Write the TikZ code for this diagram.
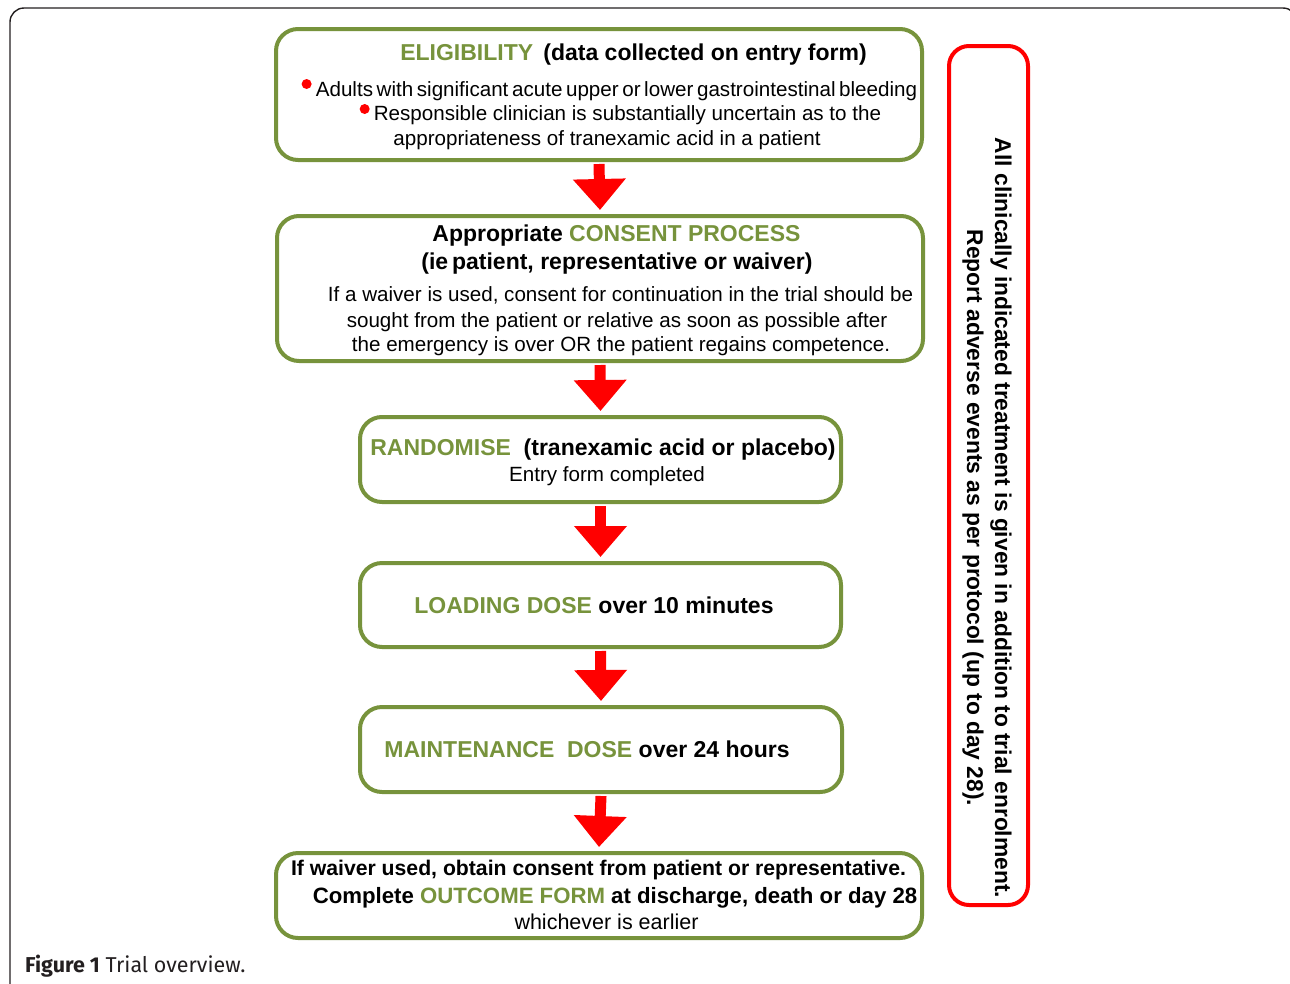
\documentclass[tikz,border=0pt]{standalone}
\usepackage{fontspec}
\setmainfont{Liberation Sans}
\newfontfamily\capfont{Fira Sans}
\usetikzlibrary{arrows.meta}
\definecolor{trialgreen}{RGB}{119,147,60}
\definecolor{capgray}{RGB}{35,31,32}
\begin{document}
\begin{tikzpicture}
  [x=1pt,y=-1pt,every node/.style={inner sep=0pt}]
  \tikzstyle{stagebox} = [draw=trialgreen,line width=4pt,rounded corners=22pt,fill=white]
  \tikzstyle{plaintext} = [anchor=base,font=\fontsize{20.6}{24}\selectfont]
  \tikzstyle{headtext} = [anchor=base,font=\fontsize{23}{28}\selectfont\bfseries]
  \tikzstyle{lasttext} = [anchor=base,font=\fontsize{21.5}{25}\selectfont]
  \tikzstyle{flowarrow} = [red,line width=11pt,-{Triangle[width=51pt,length=31pt]}]
  \tikzstyle{bulletdot} = [circle,fill=red,minimum size=10pt]
  \useasboundingbox (0,0) rectangle (1290,983);
  % page frame and caption
  \draw[capgray,line width=1.4pt,rounded corners=14pt] (10,1000) -- (10,8) -- (1297,8) -- (1297,1000);
  \node[anchor=base west,font=\capfont\fontsize{21.5}{24}\selectfont,text=capgray] (cap) at (25,972) {\textbf{Figure 1} Trial overview.};
  % stages
  \node[stagebox,minimum width=646pt,minimum height=131pt] (elig) at (599,94.5) {};
  \node[stagebox,minimum width=646pt,minimum height=145pt] (consent) at (600,288.5) {};
  \node[stagebox,minimum width=481pt,minimum height=85pt] (rand) at (600.5,459.5) {};
  \node[stagebox,minimum width=481pt,minimum height=84pt] (load) at (600.5,605) {};
  \node[stagebox,minimum width=482pt,minimum height=85pt] (maint) at (601,749.5) {};
  \node[stagebox,minimum width=646pt,minimum height=85pt] (outcome) at (599,895.5) {};
  \node[stagebox,draw=red,minimum width=79pt,minimum height=859pt,rounded corners=20pt] (note) at (988.5,475.5) {};
  % texts
  \node[headtext] (eligT) at (633.5,60) {\textcolor{trialgreen}{ELIGIBILITY}\ \,(data collected on entry form)};
  \node[plaintext] (elig1) at (616.5,96) {\spaceskip=3.6pt plus 1pt Adults with significant acute upper or lower gastrointestinal bleeding};
  \node[plaintext] (elig2) at (627.5,120) {Responsible clinician is substantially uncertain as to the};
  \node[plaintext] (elig3) at (607,145) {appropriateness of tranexamic acid in a patient};
  \node[bulletdot] (dot1) at ([shift={(-9,-12)}]elig1.base west) {};
  \node[bulletdot] (dot2) at ([shift={(-9,-11)}]elig2.base west) {};
  \node[headtext] (consT) at (616.5,241) {Appropriate \textcolor{trialgreen}{CONSENT PROCESS}};
  \node[headtext] (consS) at (617,269) {(ie\,patient, representative or waiver)};
  \node[plaintext] (cons1) at (620.5,301) {If a waiver is used, consent for continuation in the trial should be};
  \node[plaintext] (cons2) at (617,327) {sought from the patient or relative as soon as possible after};
  \node[plaintext] (cons3) at (621,351) {the emergency is over OR the patient regains competence.};
  \node[headtext] (randT) at (603,455) {\textcolor{trialgreen}{RANDOMISE}\ \ (tranexamic acid or placebo)};
  \node[plaintext] (rand1) at (607,481) {Entry form completed};
  \node[headtext] (loadT) at (594,613) {\textcolor{trialgreen}{LOADING DOSE} over 10 minutes};
  \node[headtext] (maintT) at (587,757) {\textcolor{trialgreen}{MAINTENANCE\ \ DOSE} over 24 hours};
  \node[lasttext,font=\fontsize{21.2}{25}\selectfont\bfseries] (out1) at (598.5,875) {If waiver used, obtain consent from patient or representative.};
  \node[lasttext,font=\fontsize{22.2}{25}\selectfont\bfseries] (out2) at (615,903) {Complete \textcolor{trialgreen}{OUTCOME FORM} at discharge, death or day 28};
  \node[lasttext] (out3) at (606.5,929) {whichever is earlier};
  \node[headtext,anchor=center,rotate=-90,align=center,font=\fontsize{22.8}{28}\selectfont\bfseries] (noteT) at (987,518) {All clinically indicated treatment is given in addition to trial enrolment.\\Report adverse events as per protocol (up to day 28).};
  % flow
  \foreach \source/\dest in {elig/consent,consent/rand,rand/load,load/maint,maint/outcome}
   \draw[flowarrow] ([yshift=-2pt]\source.south) -- ([yshift=4pt]\dest.north);
\end{tikzpicture}
\end{document}
